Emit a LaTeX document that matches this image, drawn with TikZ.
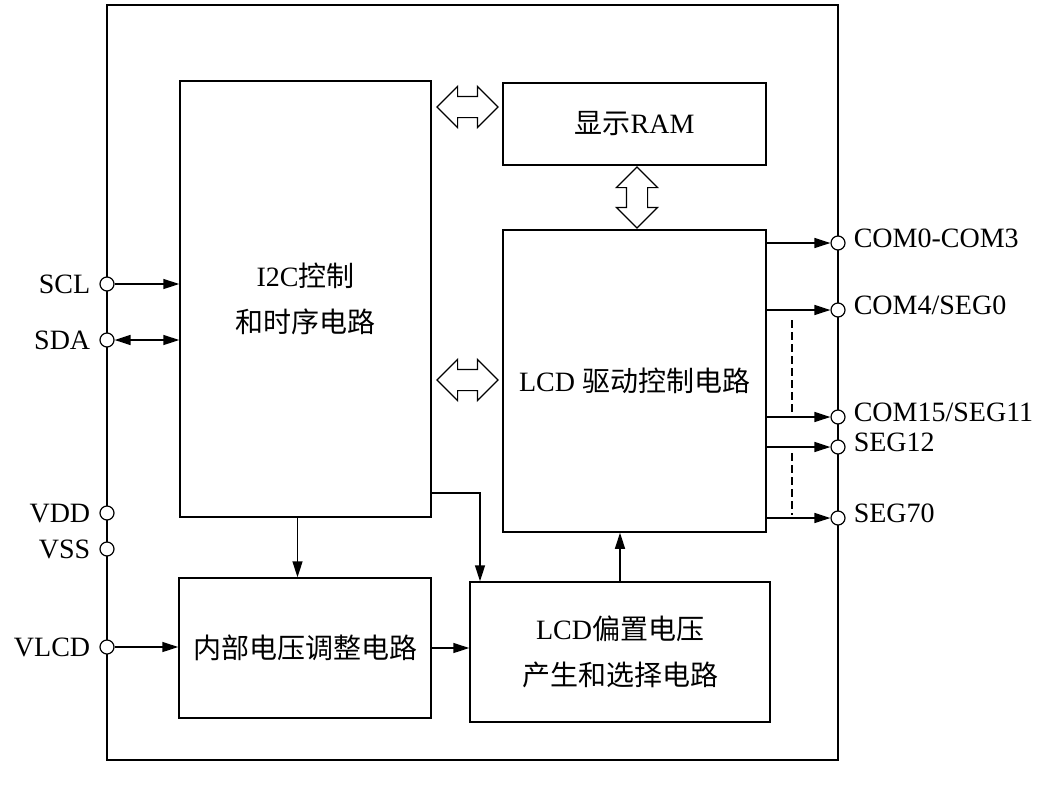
\documentclass[tikz,border=0pt]{standalone}
\usepackage{fontspec}
\setmainfont{Liberation Serif}
\newfontfamily\cjk{Noto Sans CJK SC}
\usetikzlibrary{arrows.meta, shapes.arrows}

\tikzset{
    block/.style={rectangle, draw=black, line width=1.5pt, inner sep=0pt, align=center},
    pin/.style={circle, draw=black, fill=white, line width=1.2pt, inner sep=0pt, minimum size=14pt},
    pinleft/.style={pin, label={[label distance=8pt, inner sep=1pt, text height=18.5pt, text depth=0pt]left:#1}},
    pinright/.style={pin, label={[label distance=7pt, inner sep=1pt, text height=20pt, text depth=12pt]right:#1}},
    bus/.style={double arrow, draw=black, fill=white, line width=1.2pt, inner xsep=0pt, inner ysep=10pt,
        minimum height=61pt, double arrow head extend=10pt, double arrow head indent=0pt},
    sig/.style={line width=1.5pt, -{Triangle[length=16pt, width=10pt]}},
}

\begin{document}
\begin{tikzpicture}[x=1pt, y=-1pt, font=\fontsize{28pt}{46pt}\selectfont]
    \useasboundingbox (0,0) rectangle (1048,785);

    \node (chip)[block, minimum width=731pt, minimum height=755pt] at (472.5, 382.5) {};

    \node (i2c)[block, minimum width=251pt, minimum height=436pt] at (305.5, 299) {I2C{\cjk 控制}\\{\cjk 和时序电路}};
    \node (ram)[block, minimum width=263pt, minimum height=82pt] at (634.5, 124) {{\cjk 显示}RAM};
    \node (lcd)[block, minimum width=263pt, minimum height=302pt] at (634.5, 381) {LCD {\cjk 驱动控制电路}};
    \node (vreg)[block, minimum width=252pt, minimum height=140pt] at (305, 648) {{\cjk 内部电压调整电路}};
    \node (bias)[block, minimum width=300pt, minimum height=140pt] at (620, 652) {LCD{\cjk 偏置电压}\\{\cjk 产生和选择电路}};

    \node (bus1)[bus] at (467.5, 107) {};
    \node (bus2)[bus] at (467.5, 380) {};
    \node (bus3)[bus, shape border rotate=90, inner xsep=10pt, inner ysep=0pt] at (637, 197.5) {};

    \node (scl)[pinleft=SCL] at (107, 284) {};
    \node (sda)[pinleft=SDA] at (107, 340) {};
    \node (vdd)[pinleft=VDD] at (107, 513) {};
    \node (vss)[pinleft=VSS] at (107, 549) {};
    \node (vlcd)[pinleft=VLCD] at (107, 647) {};

    \node (com0)[pinright=COM0-COM3] at (838, 243) {};
    \node (com4)[pinright=COM4/SEG0] at (838, 310) {};
    \node (com15)[pinright=COM15/SEG11] at (838, 417) {};
    \node (seg12)[pinright=SEG12] at (838, 447) {};
    \node (seg70)[pinright=SEG70] at (838, 518) {};

    \draw [sig] (scl) -- (scl -| i2c.west);
    \draw [sig, {Triangle[length=16pt, width=10pt]}-{Triangle[length=16pt, width=10pt]}] (sda) -- (sda -| i2c.west);
    \draw [sig] (vlcd) -- (vlcd -| vreg.west);
    \draw [sig] ([xshift=-8pt]i2c.south) -- ([xshift=-8pt]i2c.south |- vreg.north);
    \draw [sig] ([yshift=-194pt]i2c.east) -| ([xshift=-140pt]bias.north);
    \draw [sig] (vreg.east) -- (vreg.east -| bias.west);
    \draw [sig] (bias.north) -- (bias.north |- lcd.south);

    \draw [sig] (lcd.east |- com0) -- (com0);
    \draw [sig] (lcd.east |- com4) -- (com4);
    \draw [sig] (lcd.east |- com15) -- (com15);
    \draw [sig] (lcd.east |- seg12) -- (seg12);
    \draw [sig] (lcd.east |- seg70) -- (seg70);

    \draw [line width=1.2pt, dash pattern=on 8pt off 4pt] ([shift={(-46pt,-10pt)}]com4.center) -- ([shift={(-46pt,4pt)}]com15.center);
    \draw [line width=1.2pt, dash pattern=on 8pt off 4pt] ([shift={(-46pt,-6pt)}]seg12.center) -- ([shift={(-46pt,3pt)}]seg70.center);
\end{tikzpicture}
\end{document}
